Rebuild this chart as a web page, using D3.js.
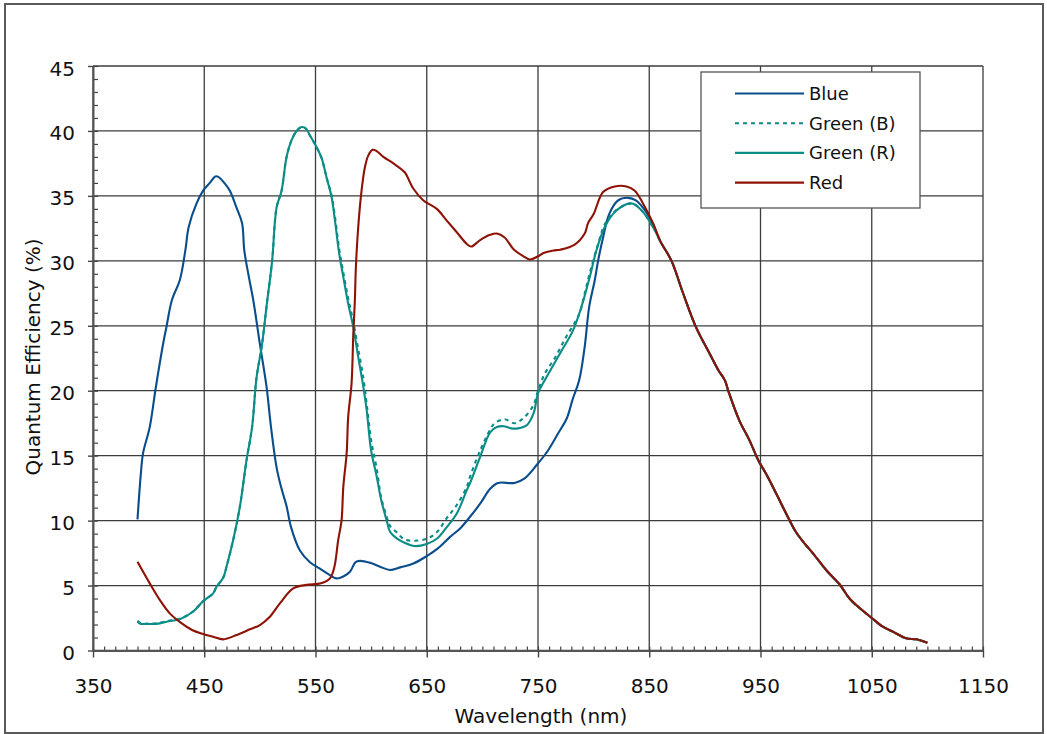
<!DOCTYPE html>
<html><head><meta charset="utf-8">
<script src="https://cdn.jsdelivr.net/npm/d3@7"></script>
<style>body{margin:0;background:#fff} text{font-family:"DejaVu Sans",sans-serif}</style>
</head><body><svg id="c" width="1047" height="734"></svg>
<script>
const xTicks=[350,450,550,650,750,850,950,1050,1150];
const yTicks=[0,5,10,15,20,25,30,35,40,45];
const seriesNames=["Blue","Green (B)","Green (R)","Red"];

const blueWl=[390,393,395,401,406,409,413,416,421,428,433,436,443,449,455,460,463,468,473,479,484,486,490,494,500,506,510,515,519,524,528,536,545,554,563,569,575,581,586,590,599,608,617,626,638,650,660,671,680,688,698,707,714,729,738,749,759,768,776,781,787,792,796,801,804,808.5,814,822,831,838,846,853];
const blueQE=[10.1,13.6,15.2,17.2,20.0,21.6,23.6,24.9,27.0,28.5,30.8,32.6,34.4,35.4,36.0,36.5,36.45,36.0,35.4,34.1,32.9,30.8,28.8,27.0,23.6,20.3,17.2,14.1,12.6,11.1,9.5,7.7,6.8,6.3,5.8,5.55,5.7,6.06,6.8,6.9,6.75,6.45,6.2,6.4,6.7,7.27,7.86,8.75,9.4,10.2,11.3,12.45,12.9,12.9,13.25,14.3,15.4,16.7,17.9,19.3,20.8,23.4,26.45,28.5,30.0,31.8,33.6,34.65,34.85,34.65,33.9,32.9];

const greenRWl=[390,393,398,407,419,428,440,449,458,461,467,470,476,482,488,493,497,502,506,511,515,519.5,524,528.5,533,537.5,541.5,545,551,555.5,560,564.5,567.5,571.3,575,579.4,584,588.4,593,596,600,605,609,614,617,623,630,639,650,659,668,677,686,689,698,707,713,719,726,732,740,746,750,756,770,781.5,789,796.5,802.5,810,819,829.5,835.5,844.5,855];
const greenRQE=[2.2,2.05,2.05,2.05,2.27,2.4,3.0,3.8,4.4,4.9,5.6,6.45,8.5,11.06,14.65,17.2,21.0,23.6,26.5,30.0,34.1,35.4,38.0,39.3,40.0,40.3,40.17,39.65,38.75,37.9,36.4,34.9,33.1,30.55,28.75,26.7,24.9,22.6,20.3,18.5,15.4,13.4,11.6,10.0,9.14,8.63,8.3,8.04,8.2,8.6,9.5,10.55,12.35,12.9,14.9,16.8,17.2,17.27,17.1,17.1,17.35,18.25,19.8,20.8,22.9,24.65,26.45,28.75,30.8,32.6,33.75,34.35,34.4,33.75,32.35];

const greenBWl=[390,393,398,407,419,428,440,449,458,461,467,470,476,482,488,493,497,502,506,511,515,519.5,524,528.5,533,537.5,541.5,545,551,555.5,560,564.5,567.5,571.3,575,579.4,584,588.4,593,596,600,605,609,614,617,623,630,639,650,659,668,677,686,689,698,707,711,720,729,737,746,750,756,765,775,787,792,796.5,804,810,819,829.5,835.5,844.5,855];
const greenBQE=[2.3,2.1,2.05,2.1,2.3,2.45,3.0,3.8,4.4,4.9,5.6,6.45,8.5,11.06,14.65,17.2,21.0,23.6,26.5,30.0,34.1,35.4,38.0,39.3,40.0,40.3,40.17,39.65,38.75,37.9,36.4,35.0,33.4,30.9,29.1,27.1,25.3,23.2,21.0,19.0,16.2,14.0,11.8,10.3,9.6,9.1,8.55,8.45,8.6,9.1,10.2,11.2,12.6,13.4,15.4,17.0,17.5,17.8,17.5,17.9,18.9,20.0,21.3,22.5,24.1,25.9,27.5,29.05,31.3,32.8,33.8,34.35,34.4,33.75,32.35];

const redWl=[390,401,410,419,428,439,449,458,467,479,491,500,509,518,530,542,555,563,567,570.4,573.4,575,578,579.4,582.4,584,585.4,586.3,588.4,591.4,594.4,597.4,601.3,605,611,620,630.4,634.8,638,647,659,668,677,686,690,698,707,713,720,728,737,743,750,755,764,770,783,792,795,800,808.5,819,829.5,837,844.5,853.4];
const redQE=[6.83,5.17,3.9,2.86,2.2,1.58,1.27,1.06,0.86,1.19,1.63,1.96,2.6,3.63,4.78,5.05,5.17,5.55,6.45,8.5,10.0,12.6,15.2,18.0,20.55,24.4,27.0,29.5,32.6,35.4,37.2,38.1,38.55,38.45,38.0,37.5,36.8,36.06,35.55,34.65,34.0,33.1,32.2,31.3,31.1,31.6,32.0,32.1,31.8,30.9,30.35,30.1,30.35,30.6,30.8,30.86,31.25,32.1,32.9,33.6,35.3,35.73,35.73,35.4,34.4,32.9];

// long-wavelength tail shared by all four curves
const tailWl=[860,870,880,892,904,912,918,921,931,940,948,955,964,973,982,990,997,1009,1021,1030,1036,1050,1060,1069,1081,1090,1100];
const tailQE=[31.5,30.0,27.6,24.9,22.9,21.6,20.8,20.0,17.7,16.2,14.65,13.6,12.1,10.55,9.1,8.2,7.5,6.2,5.1,4.0,3.5,2.5,1.83,1.45,0.94,0.86,0.6];

const colors=["#0a4d8c","#0c8c86","#0c8c86","#8e1206"];
const dashes=[null,"4,4",null,null];

const svg=d3.select("#c");
const x=d3.scaleLinear([350,1150],[93,983]);
const y=d3.scaleLinear([0,45],[650.5,66]);

// outer frame
svg.append("rect").attr("x",5).attr("y",4).attr("width",1038).attr("height",729)
  .attr("fill","#fff").attr("stroke","#5a5a5a").attr("stroke-width",2);

// grid
const grid=svg.append("g").attr("stroke","#3c3c3c").attr("stroke-width",1.3);
grid.selectAll(".gx").data(xTicks).join("line")
  .attr("x1",d=>x(d)).attr("x2",d=>x(d)).attr("y1",y(0)).attr("y2",y(45));
grid.selectAll(".gy").data(yTicks).join("line")
  .attr("x1",x(350)).attr("x2",x(1150)).attr("y1",d=>y(d)).attr("y2",d=>y(d));

// minor ticks
const gxm=svg.append("g").attr("transform",`translate(0,${y(0)})`)
  .call(d3.axisTop(x).tickValues(d3.range(350,1151,10)).tickSize(4).tickFormat(""));
const gym=svg.append("g").attr("transform",`translate(${x(350)},0)`)
  .call(d3.axisRight(y).tickValues(d3.range(0,46,1)).tickSize(5).tickFormat(""));
[gxm,gym].forEach(g=>{g.select(".domain").remove();g.selectAll("line").attr("stroke","#444").attr("stroke-width",1.2);});

// major axes
const gx=svg.append("g").attr("transform",`translate(0,${y(0)})`)
  .call(d3.axisBottom(x).tickValues(xTicks).tickSize(7).tickSizeOuter(0).tickFormat(d3.format("d")));
gx.selectAll("text").attr("y",42).attr("dy",null);
const gy=svg.append("g").attr("transform",`translate(${x(350)},0)`)
  .call(d3.axisLeft(y).tickValues(yTicks).tickSize(5).tickSizeOuter(0).tickPadding(13));
gy.selectAll("text").attr("dy","0.45em");
[gx,gy].forEach(g=>{
  g.select(".domain").attr("stroke","#555").attr("stroke-width",2);
  g.selectAll(".tick line").attr("stroke","#444").attr("stroke-width",1.4);
  g.selectAll("text").attr("font-size",20).attr("fill","#111").attr("font-family","DejaVu Sans, sans-serif");
});

// titles
svg.append("text").attr("x",541).attr("y",723).attr("text-anchor","middle")
  .attr("font-size",20).attr("fill","#111").text("Wavelength (nm)");
svg.append("text").attr("transform","translate(40,357) rotate(-90)").attr("text-anchor","middle")
  .attr("font-size",20).attr("fill","#111").text("Quantum Efficiency (%)");

// curves
const wls=[blueWl,greenBWl,greenRWl,redWl].map(a=>a.concat(tailWl));
const qes=[blueQE,greenBQE,greenRQE,redQE].map(a=>a.concat(tailQE));
const line=d3.line().x(d=>x(d[0])).y(d=>y(d[1])).curve(d3.curveCatmullRom.alpha(0.5));
seriesNames.forEach((n,i)=>{
  const pts=wls[i].map((w,j)=>[w,qes[i][j]]);
  svg.append("path").datum(pts).attr("d",line).attr("fill","none")
    .attr("stroke",colors[i]).attr("stroke-width",2.1)
    .attr("stroke-dasharray",dashes[i]).attr("stroke-linejoin","round");
});

// legend
const lg=svg.append("g");
lg.append("rect").attr("x",701).attr("y",72).attr("width",219).attr("height",136)
  .attr("fill","#fff").attr("stroke","#555").attr("stroke-width",1.3);
seriesNames.forEach((n,i)=>{
  const yy=93.5+i*29.7;
  lg.append("line").attr("x1",735).attr("x2",804).attr("y1",yy).attr("y2",yy)
    .attr("stroke",colors[i]).attr("stroke-width",2.1).attr("stroke-dasharray",dashes[i]);
  lg.append("text").attr("x",809).attr("y",yy).attr("dy","0.36em")
    .attr("font-size",18).attr("fill","#111").text(n);
});
</script></body></html>
